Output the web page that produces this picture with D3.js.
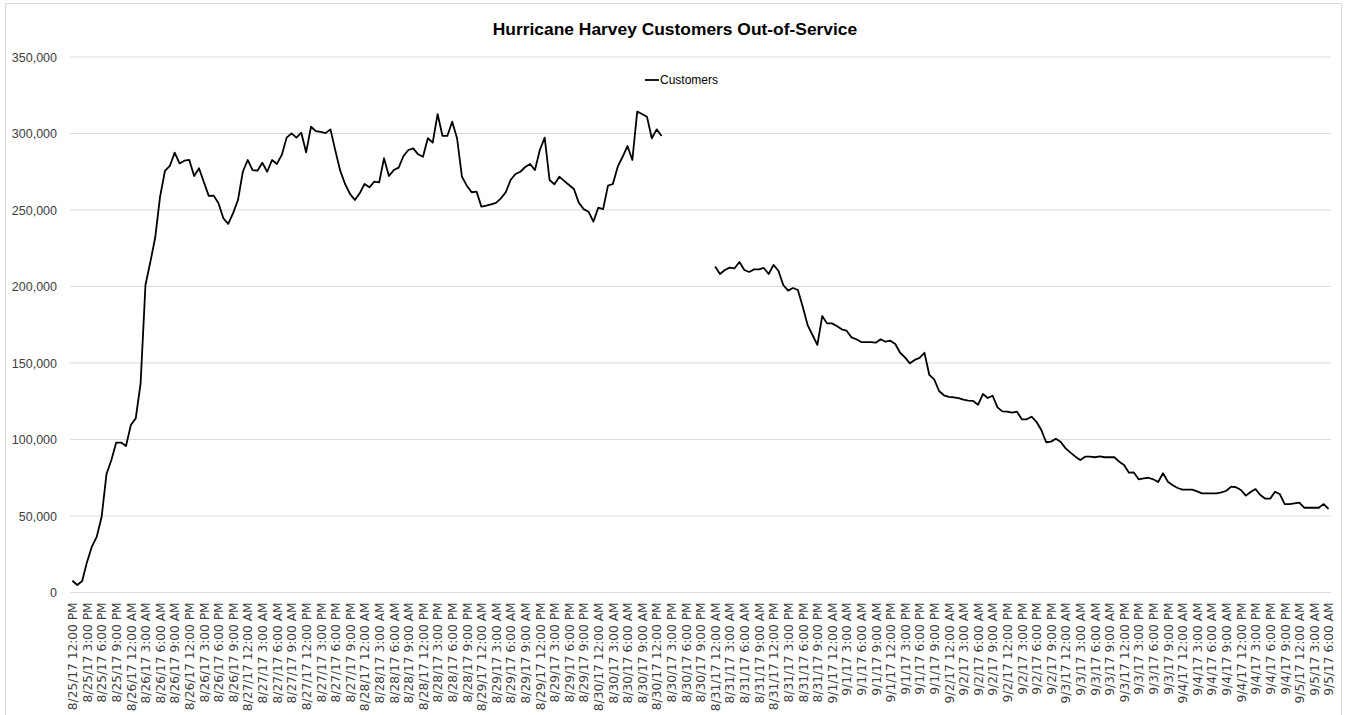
<!DOCTYPE html>
<html>
<head>
<meta charset="utf-8">
<script src="https://cdn.jsdelivr.net/npm/d3@7"></script>
<style>
  body { margin: 0; background: #fff; }
  svg { display: block; }
</style>
</head>
<body>
<div id="chart"></div>
<script>
// hourly readings, first hour 8/25/17 12:00 PM, last 9/5/17 6:00 AM
var startHour = new Date(2017, 7, 25, 12),
    endHour = new Date(2017, 8, 5, 6);

var seriesName = "Customers";
var chartTitle = "Hurricane Harvey Customers Out-of-Service";

// customers out of service, one value per hour (null = no report)
var customers = [
  7700, 4900, 7500, 20000, 30000, 36500, 49500, 77500, 86600, 98000,
  98000, 95700, 109500, 113800, 136700, 201000, 216000, 232000, 258700, 275500,
  278800, 287500, 280500, 282200, 282700, 272200, 277300, 268100, 259200, 259400,
  254400, 244600, 240900, 248000,
  256500, 275000, 282700, 276100, 275700, 280900, 275000, 282700, 280100, 286000,
  297300, 300100, 297300, 300500, 287700, 304400, 301600, 301000, 300300, 302700,
  288800, 275700, 267000, 260500, 256500, 260900, 267000, 264800, 268500, 268100,
  283800, 272200, 276100, 277700, 285300, 289200, 290300, 286400, 284800, 296900,
  294000, 312700, 298500,
  298400, 307700, 296900, 271800, 265900, 261600, 262000, 252200, 252800, 253700,
  254600, 257600, 261600, 269600, 273500, 275000, 278100, 280100, 276100, 289200,
  297300, 269600, 266800, 271800, 269000, 266300, 263700, 254800, 250600, 248900,
  242400, 251500, 250600, 265900, 267000, 278300, 284800, 291800, 282700, 314300,
  312700, 311000, 296900, 302700, 298400,
  null, null, null, null, null, null, null, null, null, null,
  213000, 208200, 210800, 212300, 211900, 216000, 210800, 209500, 211200, 211200,
  212100, 208200, 214100, 210300, 201000, 197300, 199000, 197700, 186800, 174800,
  168300, 161800, 180700, 175900, 175900, 174200, 172000, 171100, 166800, 165500,
  163700, 163700, 163700, 163300, 165500, 163900, 164600, 162400, 156700, 153700,
  149800, 152000, 153300, 156700,
  142200, 139300, 131700, 128900, 127800, 127600, 127100, 126000, 125400, 125200,
  122700, 129700, 127100, 128600, 121000, 118400, 118200, 117500, 118200, 113200,
  113200, 114900, 111600, 106200, 98200, 98600, 100500, 98400, 94200, 91400,
  88800, 86600, 88800, 88800, 88400, 89000, 88400, 88400, 88400, 85500,
  83300, 78300, 78500,
  74000, 74600, 75000, 74000, 72200, 77900, 72400, 70100, 68300, 67200,
  67200, 67200, 66100, 64800, 64800, 64800, 64800, 65500, 66500, 69200,
  68800, 67000, 63300, 65700, 67600, 63700, 61300, 61300, 65900, 64200,
  57800, 57800, 58300, 58700, 55400, 55400, 55400, 55400, 57800, 54600
];

var yTicks = [0, 50000, 100000, 150000, 200000, 250000, 300000, 350000];

var W = 1348, H = 715;
var m = {t:57, r:17, b:122.5, l:70};

var hours = d3.timeHour.range(startHour, d3.timeHour.offset(endHour, 1));
var data = hours.map(function(d, i){ return {time: d, value: customers[i]}; });

var svg = d3.select("#chart")
  .append("svg")
  .attr("width", W)
  .attr("height", H);

// chart border
svg.append("rect")
  .attr("x", 5.5).attr("y", 3.5)
  .attr("width", 1336).attr("height", 730)
  .attr("fill", "none")
  .attr("stroke", "#d9d9d9");

var scaleX = d3.scalePoint()
  .domain(hours)
  .range([m.l, W - m.r])
  .padding(0.5);

var scaleY = d3.scaleLinear()
  .domain([0, 350000])
  .range([H - m.b, m.t]);

// gridlines
svg.append("g")
  .selectAll("line")
  .data(yTicks)
  .enter()
  .append("line")
  .attr("x1", m.l)
  .attr("x2", W - m.r)
  .attr("y1", function(d){ return scaleY(d); })
  .attr("y2", function(d){ return scaleY(d); })
  .attr("stroke", "#d9d9d9")
  .attr("stroke-width", 1);

// y axis labels
var axisY = d3.axisLeft(scaleY)
  .tickValues(yTicks)
  .tickFormat(d3.format(","))
  .tickSize(0)
  .tickPadding(13);

svg.append("g")
  .attr("transform", "translate(" + m.l + ",0)")
  .call(axisY)
  .call(function(g){ g.select(".domain").remove(); })
  .selectAll("text")
  .attr("font-family", "Liberation Sans, Arial, sans-serif")
  .attr("font-size", "12.5px")
  .attr("fill", "#404040");

// x axis labels, every third hour
var fmt = d3.timeFormat("%-m/%-d/%y %-I:%M %p");
var axisX = d3.axisBottom(scaleX)
  .tickValues(hours.filter(function(d, i){ return i % 3 === 0; }))
  .tickFormat(fmt)
  .tickSize(0);

svg.append("g")
  .attr("transform", "translate(0," + (H - m.b) + ")")
  .call(axisX)
  .call(function(g){ g.select(".domain").remove(); })
  .selectAll("text")
  .attr("font-family", "DejaVu Sans, Verdana, sans-serif")
  .attr("font-size", "12.2px")
  .attr("fill", "#404040")
  .attr("text-anchor", "end")
  .attr("transform", "translate(0,10) rotate(-90)")
  .attr("x", 0)
  .attr("y", 0)
  .attr("dy", "0.35em");

// the line
var line = d3.line()
  .defined(function(d){ return d.value != null; })
  .x(function(d){ return scaleX(d.time); })
  .y(function(d){ return scaleY(d.value); });

svg.append("path")
  .datum(data)
  .attr("d", line)
  .attr("fill", "none")
  .attr("stroke", "#000")
  .attr("stroke-width", 1.8)
  .attr("stroke-linejoin", "round");

// title
svg.append("text")
  .attr("x", 675)
  .attr("y", 35)
  .attr("text-anchor", "middle")
  .attr("font-family", "Liberation Sans, Arial, sans-serif")
  .attr("font-weight", "bold")
  .attr("font-size", "17.4px")
  .attr("fill", "#000")
  .text(chartTitle);

// legend
var legend = svg.append("g").attr("transform", "translate(645,80)");
legend.append("line")
  .attr("x1", 0).attr("x2", 14)
  .attr("y1", 0).attr("y2", 0)
  .attr("stroke", "#000")
  .attr("stroke-width", 1.8);
legend.append("text")
  .attr("x", 15)
  .attr("y", 0)
  .attr("dy", "0.35em")
  .attr("font-family", "Liberation Sans, Arial, sans-serif")
  .attr("font-size", "12px")
  .attr("fill", "#000")
  .text(seriesName);
</script>
</body>
</html>
